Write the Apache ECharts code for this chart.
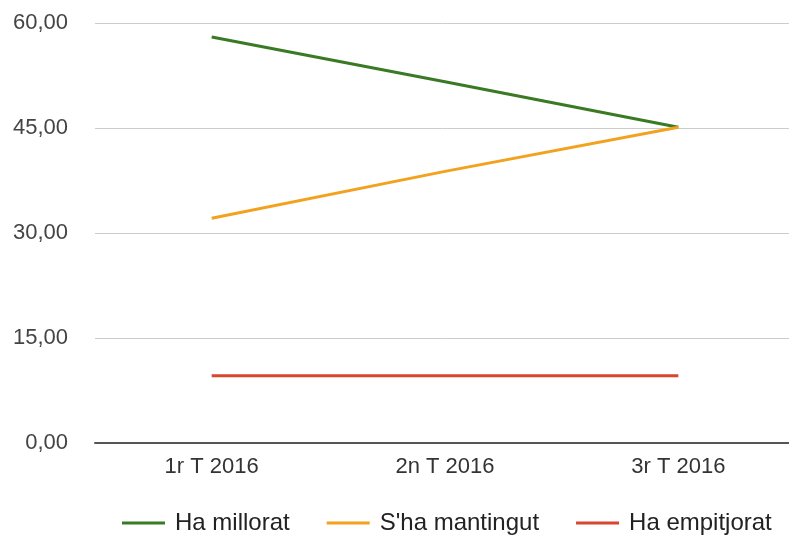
<!DOCTYPE html>
<html><head><meta charset="utf-8">
<script src="https://cdn.jsdelivr.net/npm/echarts@6/dist/echarts.min.js"></script>
<style>html,body{margin:0;padding:0;background:#fff}#c{width:789px;height:537px}</style>
</head><body><div id="c"></div>
<script>
const categories = ['1r T 2016', '2n T 2016', '3r T 2016'];
const seriesNames = ['Ha millorat', "S'ha mantingut", 'Ha empitjorat'];
const millorat = [58, 51.6, 45.1];
const mantingut = [32.1, 38.8, 45.1];
const empitjorat = [9.6, 9.6, 9.6];
const yTicks = { min: 0, max: 60, interval: 15 };
const colors = ['#3b7a24', '#f2a21f', '#d8462c'];

const chart = echarts.init(document.getElementById('c'), null, { renderer: 'canvas' });
const font = 'Liberation Sans, Arial, sans-serif';
chart.setOption({
  animation: false,
  color: colors,
  grid: { left: 95, width: 700, top: 23, height: 420, containLabel: false, outerBoundsMode: 'none' },
  legend: {
    left: 117, top: 506,
    itemWidth: 43, itemHeight: 3, itemGap: 37,
    icon: 'rect',
    textStyle: { fontFamily: font, fontSize: 24, color: '#222', padding: [0, 0, 0, 5] },
    data: seriesNames
  },
  xAxis: {
    type: 'category', data: categories, boundaryGap: true,
    axisLine: { lineStyle: { color: '#555', width: 2 } },
    axisTick: { show: false },
    axisLabel: { fontFamily: font, fontSize: 22, color: '#333', margin: 13 },
    splitLine: { show: false }
  },
  yAxis: {
    type: 'value', min: yTicks.min, max: yTicks.max, interval: yTicks.interval,
    axisLine: { show: false }, axisTick: { show: false },
    axisLabel: { fontFamily: font, fontSize: 22, color: '#444', margin: 27,
      padding: [5, 0, 0, 0],
      formatter: v => v.toFixed(2).replace('.', ',') },
    splitLine: { lineStyle: { color: '#cccccc', width: 1 } }
  },
  series: [
    { name: seriesNames[0], type: 'line', data: millorat, symbol: 'none', lineStyle: { width: 3 } },
    { name: seriesNames[1], type: 'line', data: mantingut, symbol: 'none', lineStyle: { width: 3 } },
    { name: seriesNames[2], type: 'line', data: empitjorat, symbol: 'none', lineStyle: { width: 3 } }
  ]
});
</script></body></html>
